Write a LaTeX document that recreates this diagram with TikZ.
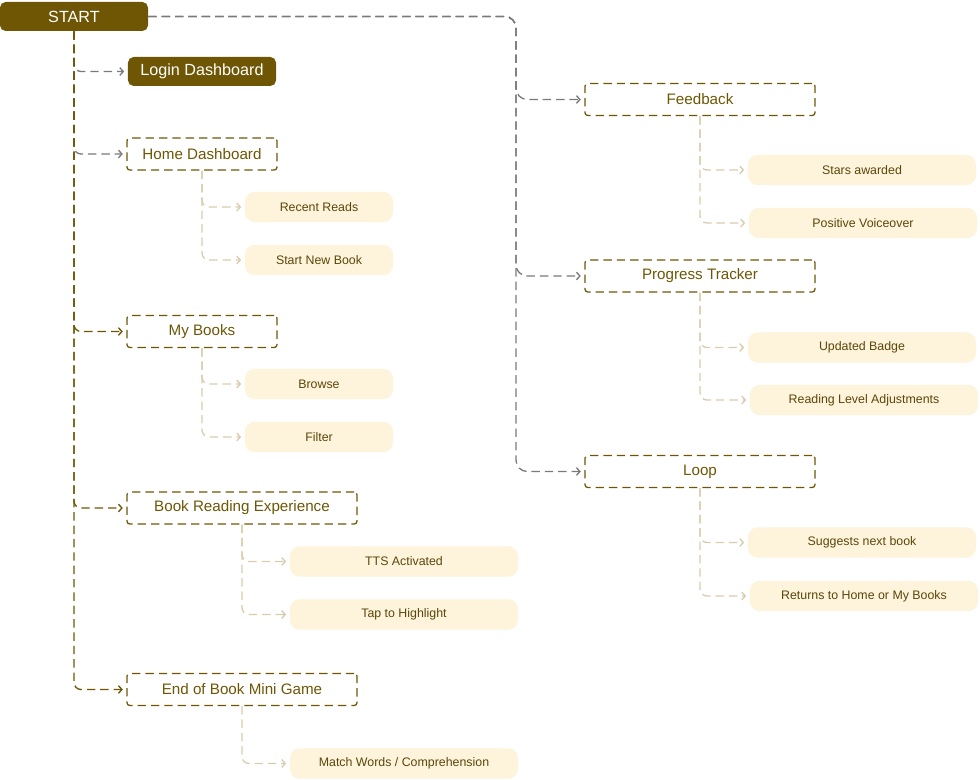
\documentclass[tikz,border=0pt]{standalone}
\usepackage{fontspec}
\setmainfont{Liberation Sans}
\usetikzlibrary{arrows.meta}
\definecolor{mainbrown}{HTML}{6E5605}
\definecolor{darktext}{HTML}{5A470A}
\definecolor{lightcream}{HTML}{FEF3DB}
\definecolor{paletan}{HTML}{D8CCAC}
\definecolor{linkgray}{HTML}{7A7A7A}
\begin{document}
\begin{tikzpicture}[x=0.025cm,y=-0.025cm,
    filled/.style={fill=mainbrown,text=white,rounded corners=4pt,minimum width=3.7cm,minimum height=0.725cm,font=\fontsize{11.5}{13}\selectfont},
    box/.style={draw=mainbrown,dash pattern=on 6pt off 3.5pt,line width=0.9pt,rounded corners=2pt,text=mainbrown,minimum height=0.8cm,font=\fontsize{10.8}{12}\selectfont},
    subbox/.style={fill=lightcream,text=darktext,rounded corners=7pt,minimum height=0.76cm,font=\fontsize{8.8}{10}\selectfont},
    link/.style={dash pattern=on 6pt off 3.5pt,line width=0.95pt,rounded corners=5pt,-{Straight Barb[length=2.5pt,width=5.5pt]},shorten >=2.5pt},
    sublink/.style={link,paletan}]
    \useasboundingbox (0,0) rectangle (980,780);

    % left column
    \node[filled] (start) at (74,16.5) {START};
    \node[filled] (login) at (202,71.5) {Login Dashboard};
    \node[box,minimum width=3.75cm] (home) at (202,154) {Home Dashboard};
    \node[subbox,minimum width=3.7cm] (recent) at (319,207) {Recent Reads};
    \node[subbox,minimum width=3.7cm] (newbook) at (319,260) {Start New Book};
    \node[box,minimum width=3.75cm] (mybooks) at (202,331.5) {My Books};
    \node[subbox,minimum width=3.7cm] (browse) at (319,384) {Browse};
    \node[subbox,minimum width=3.7cm] (filter) at (319,437) {Filter};
    \node[box,minimum width=5.75cm] (reading) at (242,508) {Book Reading Experience};
    \node[subbox,minimum width=5.7cm] (tts) at (404,561.5) {TTS Activated};
    \node[subbox,minimum width=5.7cm] (tap) at (404,614.5) {Tap to Highlight};
    \node[box,minimum width=5.75cm] (minigame) at (242,689.5) {End of Book Mini Game};
    \node[subbox,minimum width=5.7cm] (match) at (404,763.5) {Match Words / Comprehension};

    % right column
    \node[box,minimum width=5.75cm] (feedback) at (700,99.5) {Feedback};
    \node[subbox,minimum width=5.7cm] (stars) at (862,170) {Stars awarded};
    \node[subbox,minimum width=5.7cm] (voice) at (863,223) {Positive Voiceover};
    \node[box,minimum width=5.75cm] (progress) at (700,276) {Progress Tracker};
    \node[subbox,minimum width=5.7cm] (badge) at (862,347.5) {Updated Badge};
    \node[subbox,minimum width=5.7cm] (level) at (864,400) {Reading Level Adjustments};
    \node[box,minimum width=5.75cm] (loop) at (700,471.5) {Loop};
    \node[subbox,minimum width=5.7cm] (suggest) at (862,542.5) {Suggests next book};
    \node[subbox,minimum width=5.7cm] (returns) at (864,596) {Returns to Home or My Books};

    % main links
    \draw[link,linkgray] (start.south) |- (login.west);
    \draw[link,linkgray] (start.south) |- (home.west);
    \draw[link,mainbrown] (start.south) |- (mybooks.west);
    \draw[link,mainbrown] (start.south) |- (reading.west);
    \draw[link,mainbrown] (start.south) |- (minigame.west);

    \coordinate (rcorner) at (516,16.5);
    \draw[link,linkgray,rounded corners=8pt] (start.east) -- (rcorner) |- (feedback.west);
    \draw[link,linkgray,rounded corners=8pt] (start.east) -- (rcorner) |- (progress.west);
    \draw[link,linkgray,rounded corners=8pt] (start.east) -- (rcorner) |- (loop.west);

    % sub links
    \foreach \from/\to in {home/recent,home/newbook,mybooks/browse,mybooks/filter,
        reading/tts,reading/tap,minigame/match,feedback/stars,feedback/voice,
        progress/badge,progress/level,loop/suggest,loop/returns}
        \draw[sublink] (\from.south) |- (\to.west);
\end{tikzpicture}
\end{document}
